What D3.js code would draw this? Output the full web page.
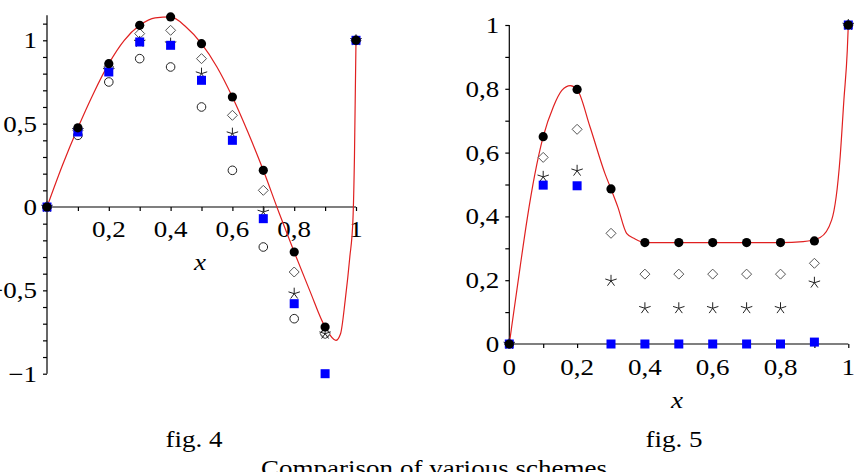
<!DOCTYPE html>
<html>
<head>
<meta charset="utf-8">
<script src="https://cdn.jsdelivr.net/npm/d3@7"></script>
<style>
  html, body { margin: 0; padding: 0; background: #fff; }
  svg text { font-family: "Liberation Serif", "DejaVu Serif", serif; fill: #000; }
</style>
</head>
<body>
<svg id="chart"></svg>
<script>
// grid nodes shared by both figures
const xNodes = [0, 0.1, 0.2, 0.3, 0.4, 0.5, 0.6, 0.7, 0.8, 0.9, 1];

// fig. 4 values
const fig4Exact   = [0, 0.475, 0.86, 1.09, 1.14, 0.98, 0.66, 0.22, -0.27, -0.72, 1];
const fig4Diamond = [0, 0.46, 0.84, 1.04, 1.06, 0.89, 0.55, 0.10, -0.39, -0.76, 1];
const fig4Star    = [0, 0.46, 0.82, 0.99, 0.98, 0.80, 0.44, -0.03, -0.52, -0.76, 1];
const fig4Square  = [0, 0.45, 0.81, 0.99, 0.97, 0.76, 0.40, -0.07, -0.58, -1.0, 1];
const fig4Circle  = [0, 0.43, 0.75, 0.89, 0.84, 0.60, 0.22, -0.24, -0.67, -0.76, 1];
const fig4CurveX  = [0, 0.05, 0.1, 0.15, 0.2, 0.25, 0.3, 0.35, 0.4, 0.45, 0.5, 0.55, 0.6, 0.65, 0.7, 0.75, 0.8, 0.85, 0.9, 0.935, 0.95, 0.965, 0.98, 0.99, 0.995, 1];
const fig4CurveY  = [0, 0.25, 0.475, 0.68, 0.86, 1.0, 1.09, 1.135, 1.14, 1.08, 0.98, 0.84, 0.66, 0.45, 0.22, -0.03, -0.27, -0.50, -0.72, -0.80, -0.76, -0.56, -0.30, -0.08, 0.30, 1];

// fig. 5 values
const fig5Exact   = [0, 0.65, 0.798, 0.486, 0.318, 0.318, 0.318, 0.318, 0.318, 0.323, 1];
const fig5Diamond = [0, 0.585, 0.673, 0.347, 0.219, 0.219, 0.219, 0.219, 0.219, 0.253, 1];
const fig5Star    = [0, 0.524, 0.543, 0.198, 0.112, 0.112, 0.112, 0.112, 0.112, 0.192, 1];
const fig5Square  = [0, 0.498, 0.496, 0, 0, 0, 0, 0, 0, 0.006, 1];
const fig5CurveX  = [0, 0.007, 0.032, 0.053, 0.075, 0.1, 0.13, 0.155, 0.18, 0.2, 0.238, 0.282, 0.3, 0.32, 0.346, 0.37, 0.4, 0.5, 0.6, 0.7, 0.8, 0.867, 0.917, 0.951, 0.976, 0.987, 0.997, 1];
const fig5CurveY  = [0, 0.054, 0.242, 0.394, 0.53, 0.65, 0.744, 0.795, 0.81, 0.798, 0.681, 0.535, 0.486, 0.43, 0.347, 0.33, 0.318, 0.318, 0.318, 0.318, 0.318, 0.321, 0.334, 0.389, 0.587, 0.765, 0.92, 1];

// tick labels
const fig4XLabels = [0.2, 0.4, 0.6, 0.8, 1];
const fig4YLabels = [-1, -0.5, 0, 0.5, 1];
const fig5XLabels = [0, 0.2, 0.4, 0.6, 0.8, 1];
const fig5YLabels = [0, 0.2, 0.4, 0.6, 0.8, 1];
const captions = ["fig. 4", "fig. 5"];
const title = "Comparison of various schemes";

const width = 860, height = 472;
const FS = 23.5;      // font size
const SX = 1.15;      // the scan is a bit wider than tall
const svg = d3.select("#chart").attr("width", width).attr("height", height);
svg.append("rect").attr("width", width).attr("height", height).attr("fill", "#fff");

const comma = v => String(v).replace(".", ",").replace("-", "\u2212");
const place = (px, py) => `translate(${px},${py}) scale(${SX},1)`;

function drawPanel(cfg) {
  const x = d3.scaleLinear().domain([0, 1]).range(cfg.xRange);
  const y = d3.scaleLinear().domain(cfg.yDomain).range(cfg.yRange);
  const g = svg.append("g");

  // x axis along y=0
  const xAxis = d3.axisBottom(x).tickValues(d3.range(0, 1.0001, 0.1)).tickSize(4).tickFormat("");
  const gx = g.append("g").attr("transform", `translate(0,${y(0)})`).call(xAxis);
  gx.select(".domain").attr("d", `M${x(0)},0H${x(1)}`);

  const yAxis = d3.axisLeft(y).tickValues(d3.range(cfg.yDomain[0], cfg.yTop + 0.0001, 0.1)).tickSize(4).tickFormat("");
  const gy = g.append("g").attr("transform", `translate(${x(0)},0)`).call(yAxis);
  gy.select(".domain").attr("d", `M0,${y(cfg.yDomain[0])}V${y(cfg.yDomain[1])}`);
  g.selectAll(".domain, .tick line").attr("stroke", "#000").attr("stroke-width", 1.2);

  g.selectAll(".xl").data(cfg.xLabels).join("text")
    .attr("transform", d => place(x(d), cfg.xLabelY))
    .attr("text-anchor", "middle").attr("font-size", FS)
    .text(comma);
  g.selectAll(".yl").data(cfg.yLabels).join("text")
    .attr("transform", d => place(x(0) - 10, y(d) + 8))
    .attr("text-anchor", "end").attr("font-size", FS)
    .text(comma);
  g.append("text").attr("transform", place(cfg.xTitle[0], cfg.xTitle[1]))
    .attr("text-anchor", "middle").attr("font-size", FS)
    .attr("font-style", "italic").text("x");

  // red reference curve
  const line = d3.line().x(d => x(d[0])).y(d => y(d[1])).curve(d3.curveMonotoneX);
  g.append("path").datum(d3.zip(cfg.curveX, cfg.curveY))
    .attr("d", line).attr("fill", "none").attr("stroke", "#e02020").attr("stroke-width", 1.2);

  const pts = arr => d3.zip(xNodes, arr);

  if (cfg.circle) {
    g.selectAll(".circ").data(pts(cfg.circle)).join("circle")
      .attr("cx", d => x(d[0])).attr("cy", d => y(d[1])).attr("r", 4.3)
      .attr("fill", "#fff").attr("stroke", "#222").attr("stroke-width", 1);
  }
  g.selectAll(".dia").data(pts(cfg.diamond)).join("path")
    .attr("transform", d => `translate(${x(d[0])},${y(d[1])})`)
    .attr("d", "M0,-5L5,0L0,5L-5,0Z")
    .attr("fill", "#fff").attr("stroke", "#555").attr("stroke-width", 1);
  const starPath = d3.range(5).map(i => {
    const a = -Math.PI / 2 + i * 2 * Math.PI / 5;
    return `M0,0L${(6 * Math.cos(a)).toFixed(2)},${(6 * Math.sin(a)).toFixed(2)}`;
  }).join("");
  g.selectAll(".star").data(pts(cfg.star)).join("path")
    .attr("transform", d => `translate(${x(d[0])},${y(d[1])})`)
    .attr("d", starPath).attr("fill", "none").attr("stroke", "#222").attr("stroke-width", 1);
  g.selectAll(".sq").data(pts(cfg.square)).join("rect")
    .attr("x", d => x(d[0]) - 4.5).attr("y", d => y(d[1]) - 4.5)
    .attr("width", 9).attr("height", 9).attr("fill", "#0000ff");
  g.selectAll(".ex").data(pts(cfg.exact)).join("circle")
    .attr("cx", d => x(d[0])).attr("cy", d => y(d[1])).attr("r", 4.6)
    .attr("fill", "#000");
}

drawPanel({
  xRange: [47, 356], yDomain: [-1, 1.15], yTop: 1.1, yRange: [373.7, 15.3],
  xLabels: fig4XLabels, yLabels: fig4YLabels, xLabelY: 237, xTitle: [200, 270],
  curveX: fig4CurveX, curveY: fig4CurveY,
  exact: fig4Exact, diamond: fig4Diamond, star: fig4Star, square: fig4Square, circle: fig4Circle
});

drawPanel({
  xRange: [509.3, 848.3], yDomain: [0, 1], yTop: 1, yRange: [344, 25],
  xLabels: fig5XLabels, yLabels: fig5YLabels, xLabelY: 375, xTitle: [677, 408],
  curveX: fig5CurveX, curveY: fig5CurveY,
  exact: fig5Exact, diamond: fig5Diamond, star: fig5Star, square: fig5Square, circle: null
});

svg.selectAll(".cap").data(captions).join("text")
  .attr("transform", (d, i) => place([194, 674][i], 446.5))
  .attr("text-anchor", "middle").attr("font-size", FS).text(d => d);
svg.append("text").attr("transform", place(434, 475.5))
  .attr("text-anchor", "middle").attr("font-size", FS).text(title);
</script>
</body>
</html>
